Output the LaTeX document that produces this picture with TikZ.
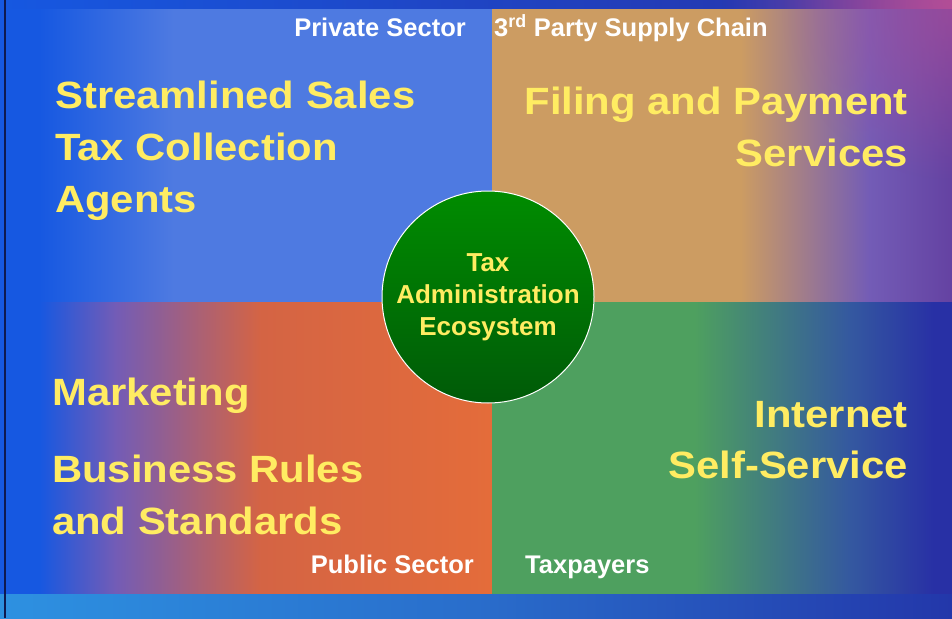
\documentclass[tikz,border=0pt]{standalone}
\usepackage{fontspec}
\setmainfont{Liberation Sans}
\newfontfamily\bigf{Liberation Sans}[FakeStretch=1.1]
\usetikzlibrary{fadings}
\definecolor{bgA}{RGB}{22,88,225}
\definecolor{bgB}{RGB}{40,48,165}
\definecolor{pinkc}{RGB}{190,80,150}
\definecolor{qblue}{RGB}{78,122,225}
\definecolor{qgold}{RGB}{204,156,98}
\definecolor{qpur}{RGB}{100,66,162}
\definecolor{qmix}{RGB}{115,92,182}
\definecolor{qred}{RGB}{212,100,68}
\definecolor{qred2}{RGB}{228,108,58}
\definecolor{qgrn}{RGB}{78,160,95}
\definecolor{qgrnb}{RGB}{52,88,160}
\definecolor{stripA}{RGB}{45,145,225}
\definecolor{stripB}{RGB}{35,55,170}
\definecolor{yel}{RGB}{255,236,98}
\definecolor{navy}{RGB}{15,25,80}
\definecolor{gtop}{RGB}{0,140,0}
\definecolor{gbot}{RGB}{0,90,8}
\pgfdeclarehorizontalshading{bgsh}{100bp}{color(0bp)=(bgA); color(25bp)=(bgA); color(75bp)=(bgB); color(100bp)=(bgB)}
\pgfdeclarehorizontalshading{qTL}{100bp}{color(0bp)=(bgA); color(25bp)=(bgA); color(28bp)=(bgA); color(42bp)=(qblue); color(100bp)=(qblue)}
\pgfdeclarehorizontalshading{qTR}{100bp}{color(0bp)=(qgold); color(25bp)=(qgold); color(52bp)=(qgold); color(66bp)=(qmix); color(75bp)=(qpur); color(100bp)=(qpur)}
\pgfdeclarehorizontalshading{qBL}{100bp}{color(0bp)=(bgA); color(25bp)=(bgA); color(28bp)=(bgA); color(36bp)=(qmix); color(51bp)=(qred); color(75bp)=(qred2); color(100bp)=(qred2)}
\pgfdeclarehorizontalshading{qBR}{100bp}{color(0bp)=(qgrn); color(25bp)=(qgrn); color(47bp)=(qgrn); color(64bp)=(qgrnb); color(73bp)=(bgB); color(100bp)=(bgB)}
\pgfdeclarehorizontalshading{stripsh}{100bp}{color(0bp)=(stripA); color(25bp)=(stripA); color(50bp)=(stripA!60!stripB); color(75bp)=(stripB); color(100bp)=(stripB)}
\tikzfading[name=blob, inner color=transparent!0, outer color=transparent!100]
\tikzset{
  lab/.style={text=white, inner sep=0pt, font=\fontsize{25.5}{30}\selectfont\bfseries},
  big/.style={text=yel, inner sep=0pt, font=\bigf\fontsize{38}{52}\selectfont\bfseries},
  eco/.style={circle, minimum size=212pt, inner sep=0pt, top color=gtop, bottom color=gbot,
    draw=white, line width=1pt, text=yel, align=center, font=\fontsize{26}{32}\selectfont\bfseries}
}
\begin{document}
\begin{tikzpicture}[x=1pt, y=-1pt]
\useasboundingbox (0,0) rectangle (952,618);
% background
\shade[shading=bgsh] (0,0) rectangle (952,618);
\fill[pinkc, path fading=blob, fill opacity=0.85] (952,0) circle (230);
% quadrants
\shade[shading=qTL] (10,10) rectangle (492,302);
\shade[shading=qTR] (492,10) rectangle (952,302);
\shade[shading=qBL] (10,302) rectangle (492,594);
\shade[shading=qBR] (492,302) rectangle (952,594);
\fill[pinkc, path fading=blob, fill opacity=0.55] (952,10) circle (170);
% bottom strip
\shade[shading=stripsh] (0,594) rectangle (952,618);
% left border
\draw[navy, line width=1.6pt] (5,0) -- (5,618);
% labels
\node[lab, anchor=base east] (priv) at (466,37) {Private Sector};
\node[lab, anchor=base west] (third) at (494,37) {3\textsuperscript{rd} Party Supply Chain};
\node[lab, anchor=base east] (pub) at (474,573) {Public Sector};
\node[lab, anchor=base west] (taxp) at (525,573) {Taxpayers};
% big texts
\node[big, anchor=base west] (s1) at (55,108) {Streamlined Sales};
\node[big, anchor=base west] (s2) at (55,160) {Tax Collection};
\node[big, anchor=base west] (s3) at (55,212) {Agents};
\node[big, anchor=base east] (f1) at (908,114) {Filing and Payment};
\node[big, anchor=base east] (f2) at (908,166) {Services};
\node[big, anchor=base west] (m1) at (52,405) {Marketing};
\node[big, anchor=base west] (b1) at (52,482) {Business Rules};
\node[big, anchor=base west] (b2) at (52,534) {and Standards};
\node[big, anchor=base east] (i1) at (908,427) {Internet};
\node[big, anchor=base east] (i2) at (908,478) {Self-Service};
% center circle
\node[eco] (center) at (488,297) {Tax\\Administration\\Ecosystem};
\end{tikzpicture}
\end{document}
